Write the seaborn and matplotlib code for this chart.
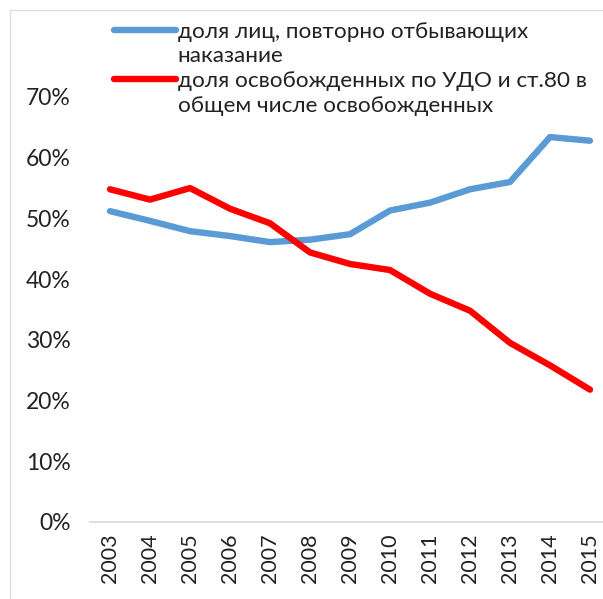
import matplotlib
matplotlib.use("Agg")
import matplotlib.pyplot as plt
import seaborn as sns
import pandas as pd
from matplotlib.lines import Line2D
from matplotlib.patches import Rectangle
from matplotlib.ticker import PercentFormatter

years = [2003, 2004, 2005, 2006, 2007, 2008, 2009, 2010, 2011, 2012, 2013, 2014, 2015]
repeat_share = [51.2, 49.6, 47.9, 47.1, 46.1, 46.5, 47.4, 51.3, 52.6, 54.8, 56.0, 63.4, 62.8]
parole_share = [54.8, 53.1, 55.0, 51.6, 49.2, 44.4, 42.5, 41.5, 37.6, 34.8, 29.5, 25.8, 21.8]
series_names = ["доля лиц, повторно отбывающих наказание",
                "доля освобожденных по УДО и ст.80 в общем числе освобожденных"]
legend_lines = [["доля лиц, повторно отбывающих", "наказание"],
                ["доля освобожденных по УДО и ст.80 в", "общем числе освобожденных"]]
colors = ["#5B9BD5", "#FF0000"]
y_ticks = [0, 10, 20, 30, 40, 50, 60, 70]

df = pd.DataFrame({
    "year": years * 2,
    "value": repeat_share + parole_share,
    "series": [series_names[0]] * len(years) + [series_names[1]] * len(years),
})

sns.set_style("white")
plt.rcParams["font.family"] = ["Lato", "DejaVu Sans"]

fig = plt.figure(figsize=(6.03, 5.99), dpi=100)
ax = fig.add_axes([90 / 603, (599 - 522) / 599, 520 / 603, (522 - 97) / 599])

sns.lineplot(data=df, x="year", y="value", hue="series", palette=colors,
             linewidth=4.6, ax=ax, legend=False, sort=False)
for ln in ax.get_lines():
    ln.set_solid_capstyle("round")
    ln.set_solid_joinstyle("round")
    ln.set_clip_on(False)

ax.set_xlim(years[0] - 0.5, years[-1] + 0.5)
ax.set_ylim(0, 70)
ax.set_xticks(years)
ax.set_xticklabels([str(y) for y in years], rotation=90, fontsize=15.5, color="#222222")
ax.set_yticks(y_ticks)
ax.yaxis.set_major_formatter(PercentFormatter(decimals=0))
ax.tick_params(axis="y", labelsize=16.5, colors="#222222", length=0, pad=14)
ax.tick_params(axis="x", length=0, pad=8)
for s in ["top", "right", "left"]:
    ax.spines[s].set_visible(False)
ax.spines["bottom"].set_color("#d9d9d9")
ax.spines["bottom"].set_linewidth(1.2)
ax.set_xlabel("")
ax.set_ylabel("")

handles = [
    Line2D([], [], color=colors[0], lw=4.6, solid_capstyle="round"),
    Line2D([], [], color="none"),
    Line2D([], [], color=colors[1], lw=4.6, solid_capstyle="round"),
    Line2D([], [], color="none"),
]
labels = [legend_lines[0][0], legend_lines[0][1], legend_lines[1][0], legend_lines[1][1]]
fig.legend(handles, labels, loc="upper left", bbox_to_anchor=(114 / 603, 1 - 22 / 599),
           frameon=False, fontsize=16.2, handlelength=2.75, handletextpad=0.08,
           labelspacing=0.2, borderpad=0, borderaxespad=0, labelcolor="#222222")

fig.patches.append(Rectangle((10 / 603, -0.1), 1.2, 1 - 10 / 599 + 0.1,
                             transform=fig.transFigure, fill=False,
                             edgecolor="#dddddd", lw=1.0))

fig.savefig("out.png", dpi=100)
